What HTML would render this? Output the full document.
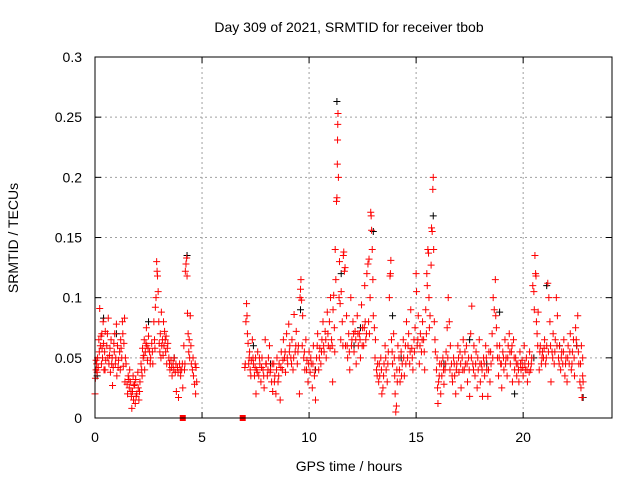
<!DOCTYPE html>
<html><head><meta charset="utf-8"><style>
body{margin:0;background:#fff;}
svg{display:block;font-family:"Liberation Sans",sans-serif;}
</style></head><body>
<svg id="chart" width="640" height="480">
<text x="349" y="32" text-anchor="middle" font-size="14">Day 309 of 2021, SRMTID for receiver tbob</text>
<text x="349" y="471" text-anchor="middle" font-size="14">GPS time / hours</text>
<text transform="translate(18,238) rotate(-90)" text-anchor="middle" font-size="14">SRMTID / TECUs</text>
<g id="grid"></g><g id="axes"></g><g id="black"></g><g id="red"></g>
<rect x="95" y="57" width="517" height="361" fill="none" stroke="#000" stroke-width="1"/>
</svg>
<script>
const xTicks=[0,5,10,15,20];
const yTicks=[0,0.05,0.1,0.15,0.2,0.25,0.3];
const yTickLabels=["0","0.05","0.1","0.15","0.2","0.25","0.3"];
const blackPoints=[[0.1,0.035],[0.4,0.083],[1.0,0.07],[2.5,0.08],[4.3,0.135],[7.4,0.06],[8.2,0.045],[9.6,0.09],[10.3,0.04],[11.3,0.263],[11.5,0.12],[12.4,0.075],[13.0,0.155],[13.9,0.085],[14.3,0.05],[15.8,0.168],[16.3,0.045],[17.5,0.065],[18.3,0.045],[18.9,0.088],[19.6,0.02],[20.5,0.05],[21.1,0.11],[21.7,0.06],[22.5,0.06],[22.8,0.017],[12.1,0.06],[3.7,0.05]];
const redPoints=[
[0.0,0.02],[0.02,0.033],[0.05,0.04],[0.08,0.045],[0.1,0.038],[0.12,0.05],[0.15,0.042],[0.2,0.055],[0.22,0.091],[0.25,0.06],[0.28,0.068],[0.3,0.045],[0.32,0.07],[0.35,0.05],[0.38,0.08],[0.4,0.062],[0.42,0.04],[0.45,0.055],[0.48,0.072],[0.5,0.048],[0.55,0.06],[0.6,0.05],[0.62,0.083],[0.65,0.045],[0.7,0.058],[0.72,0.038],[0.75,0.065],[0.8,0.05],[0.82,0.027],[0.85,0.042],[0.9,0.055],[0.92,0.07],[0.95,0.045],[1.0,0.078],[1.02,0.035],[1.05,0.06],[1.1,0.048],[1.15,0.055],[1.18,0.04],[1.2,0.065],[1.25,0.05],[1.28,0.08],[1.3,0.07],[1.32,0.043],[1.35,0.062],[1.38,0.083],[1.4,0.03],[1.45,0.045],[1.5,0.028],[1.52,0.02],[1.55,0.035],[1.6,0.025],[1.62,0.04],[1.65,0.03],[1.7,0.018],[1.72,0.008],[1.75,0.022],[1.78,0.035],[1.8,0.015],[1.85,0.028],[1.88,0.012],[1.9,0.032],[1.95,0.02],[2.0,0.038],[2.02,0.025],[2.05,0.015],[2.1,0.03],[2.15,0.045],[2.2,0.035],[2.22,0.058],[2.25,0.05],[2.3,0.065],[2.32,0.04],[2.35,0.055],[2.4,0.075],[2.42,0.06],[2.45,0.048],[2.5,0.068],[2.55,0.055],[2.6,0.05],[2.65,0.062],[2.7,0.045],[2.75,0.08],[2.8,0.058],[2.82,0.092],[2.85,0.1],[2.88,0.13],[2.9,0.122],[2.92,0.118],[2.95,0.105],[2.98,0.08],[3.0,0.062],[3.05,0.07],[3.08,0.05],[3.1,0.088],[3.15,0.065],[3.2,0.08],[3.22,0.06],[3.25,0.072],[3.3,0.055],[3.32,0.068],[3.35,0.045],[3.4,0.062],[3.45,0.05],[3.5,0.04],[3.55,0.048],[3.6,0.035],[3.65,0.045],[3.7,0.05],[3.75,0.038],[3.8,0.022],[3.85,0.042],[3.9,0.017],[3.95,0.045],[4.0,0.035],[4.05,0.04],[4.1,0.025],[4.15,0.06],[4.2,0.045],[4.22,0.122],[4.25,0.128],[4.28,0.133],[4.3,0.118],[4.32,0.087],[4.35,0.07],[4.38,0.055],[4.4,0.065],[4.42,0.05],[4.45,0.085],[4.5,0.045],[4.55,0.04],[4.6,0.035],[4.65,0.028],[4.68,0.045],[4.7,0.02],[4.75,0.03],
[7.0,0.042],[7.02,0.045],[7.05,0.08],[7.08,0.095],[7.1,0.085],[7.12,0.07],[7.15,0.062],[7.2,0.05],[7.22,0.055],[7.25,0.04],[7.3,0.048],[7.35,0.065],[7.4,0.045],[7.45,0.035],[7.5,0.05],[7.52,0.02],[7.55,0.04],[7.6,0.055],[7.65,0.035],[7.7,0.045],[7.75,0.03],[7.8,0.05],[7.85,0.04],[7.9,0.025],[7.95,0.065],[8.0,0.045],[8.05,0.035],[8.1,0.05],[8.15,0.06],[8.2,0.04],[8.25,0.03],[8.3,0.022],[8.35,0.045],[8.4,0.035],[8.45,0.02],[8.5,0.05],[8.55,0.03],[8.6,0.045],[8.65,0.015],[8.7,0.055],[8.75,0.04],[8.8,0.065],[8.85,0.05],[8.9,0.038],[8.95,0.07],[9.0,0.045],[9.05,0.078],[9.1,0.06],[9.15,0.05],[9.2,0.065],[9.25,0.04],[9.3,0.086],[9.35,0.055],[9.4,0.072],[9.45,0.045],[9.5,0.06],[9.55,0.02],[9.58,0.1],[9.6,0.107],[9.62,0.115],[9.65,0.098],[9.7,0.085],[9.75,0.05],[9.8,0.04],[9.85,0.065],[9.9,0.048],[9.95,0.03],[10.0,0.055],[10.05,0.038],[10.1,0.045],[10.15,0.025],[10.2,0.06],[10.25,0.035],[10.3,0.015],[10.35,0.05],[10.4,0.07],[10.45,0.04],[10.5,0.058],[10.55,0.045],[10.6,0.065],[10.65,0.08],[10.7,0.055],[10.75,0.072],[10.8,0.05],[10.85,0.088],[10.9,0.06],[10.95,0.08],[11.0,0.1],[11.05,0.065],[11.1,0.03],[11.12,0.09],[11.15,0.102],[11.2,0.055],[11.22,0.14],[11.25,0.115],[11.28,0.18],[11.3,0.183],[11.32,0.211],[11.33,0.231],[11.34,0.244],[11.35,0.253],[11.37,0.2],[11.4,0.1],[11.42,0.13],[11.45,0.095],[11.5,0.105],[11.55,0.08],[11.6,0.135],[11.62,0.138],[11.65,0.122],[11.68,0.125],[11.7,0.06],[11.75,0.085],[11.8,0.05],[11.85,0.07],[11.9,0.04],[11.95,0.1],[12.0,0.065],[12.05,0.08],[12.1,0.055],[12.15,0.072],[12.2,0.045],[12.25,0.085],[12.3,0.06],[12.35,0.07],[12.4,0.05],[12.45,0.094],[12.5,0.075],[12.55,0.06],[12.6,0.11],[12.62,0.08],[12.65,0.065],[12.7,0.12],[12.75,0.128],[12.8,0.132],[12.82,0.07],[12.85,0.1],[12.88,0.171],[12.9,0.168],[12.92,0.156],[12.95,0.14],[12.98,0.115],[13.0,0.085],[13.05,0.075],[13.1,0.065],[13.15,0.04],[13.2,0.045],[13.25,0.03],[13.3,0.035],[13.35,0.05],[13.4,0.02],[13.45,0.025],[13.5,0.045],[13.55,0.06],[13.6,0.04],[13.65,0.03],[13.7,0.055],[13.75,0.1],[13.78,0.118],[13.8,0.12],[13.82,0.131],[13.85,0.065],[13.9,0.045],[13.95,0.07],[14.0,0.035],[14.02,0.02],[14.05,0.005],[14.08,0.01],[14.1,0.04],[14.15,0.06],[14.2,0.05],[14.25,0.03],[14.3,0.055],[14.35,0.045],[14.4,0.065],[14.45,0.035],[14.5,0.06],[14.55,0.08],[14.6,0.05],[14.65,0.07],[14.7,0.045],[14.75,0.09],[14.8,0.058],[14.85,0.04],[14.9,0.065],[14.95,0.075],[15.0,0.12],[15.02,0.105],[15.05,0.06],[15.1,0.085],[15.15,0.045],[15.2,0.07],[15.25,0.055],[15.3,0.08],[15.35,0.065],[15.4,0.04],[15.45,0.09],[15.5,0.12],[15.52,0.11],[15.55,0.14],[15.58,0.137],[15.6,0.1],[15.65,0.085],[15.7,0.127],[15.72,0.158],[15.75,0.155],[15.78,0.19],[15.8,0.2],[15.82,0.14],[15.85,0.08],[15.9,0.055],[15.95,0.04],[16.0,0.025],[16.02,0.012],[16.05,0.03],[16.1,0.045],[16.15,0.02],[16.2,0.035],[16.25,0.05],[16.3,0.028],[16.35,0.04],[16.4,0.055],[16.45,0.075],[16.5,0.1],[16.55,0.08],[16.6,0.06],[16.65,0.045],[16.7,0.03],[16.75,0.05],[16.8,0.035],[16.85,0.02],[16.9,0.045],[16.95,0.06],[17.0,0.038],[17.05,0.055],[17.1,0.025],[17.15,0.05],[17.2,0.065],[17.25,0.04],[17.3,0.045],[17.35,0.06],[17.4,0.03],[17.45,0.05],[17.5,0.018],[17.55,0.07],[17.6,0.093],[17.65,0.045],[17.7,0.06],[17.75,0.035],[17.8,0.055],[17.85,0.025],[17.9,0.04],[17.95,0.065],[18.0,0.03],[18.05,0.045],[18.1,0.018],[18.15,0.05],[18.2,0.035],[18.25,0.06],[18.3,0.04],[18.35,0.018],[18.4,0.055],[18.45,0.03],[18.5,0.045],[18.55,0.07],[18.6,0.1],[18.65,0.09],[18.7,0.115],[18.72,0.085],[18.75,0.075],[18.8,0.05],[18.85,0.035],[18.9,0.06],[18.95,0.045],[19.0,0.025],[19.05,0.055],[19.1,0.04],[19.15,0.065],[19.2,0.05],[19.25,0.035],[19.3,0.06],[19.35,0.07],[19.4,0.045],[19.45,0.055],[19.5,0.03],[19.55,0.065],[19.6,0.04],[19.65,0.05],[19.7,0.035],[19.75,0.045],[19.8,0.03],[19.85,0.055],[19.9,0.04],[19.95,0.048],[20.0,0.035],[20.05,0.06],[20.1,0.04],[20.15,0.05],[20.2,0.03],[20.25,0.045],[20.3,0.055],[20.35,0.04],[20.4,0.05],[20.45,0.11],[20.5,0.105],[20.52,0.09],[20.55,0.135],[20.58,0.12],[20.6,0.118],[20.62,0.08],[20.65,0.07],[20.7,0.088],[20.75,0.04],[20.8,0.06],[20.85,0.045],[20.9,0.055],[20.95,0.05],[21.0,0.065],[21.05,0.045],[21.1,0.06],[21.15,0.112],[21.2,0.1],[21.25,0.08],[21.3,0.03],[21.35,0.055],[21.4,0.07],[21.45,0.045],[21.5,0.065],[21.55,0.1],[21.6,0.085],[21.65,0.05],[21.7,0.06],[21.75,0.04],[21.8,0.055],[21.85,0.045],[21.9,0.065],[21.95,0.035],[22.0,0.05],[22.05,0.03],[22.1,0.06],[22.15,0.045],[22.2,0.07],[22.25,0.04],[22.3,0.055],[22.35,0.065],[22.4,0.035],[22.45,0.075],[22.5,0.06],[22.55,0.085],[22.6,0.045],[22.65,0.03],[22.7,0.025],[22.72,0.06],[22.75,0.017],[22.78,0.035],[22.8,0.03]
];
const redPoints2=[
[0.05,0.048],[0.18,0.065],[0.33,0.058],[0.47,0.04],[0.58,0.07],[0.68,0.052],[0.78,0.045],[0.88,0.062],[0.97,0.05],[1.08,0.042],[1.22,0.058],[1.42,0.05],[1.58,0.032],[1.68,0.022],[1.82,0.027],[1.92,0.018],[2.08,0.022],[2.18,0.04],[2.28,0.052],[2.38,0.062],[2.48,0.058],[2.58,0.045],[2.68,0.055],[2.78,0.065],[3.03,0.055],[3.12,0.06],[3.18,0.052],[3.28,0.065],[3.38,0.058],[3.48,0.045],[3.58,0.042],[3.68,0.04],[3.78,0.045],[3.88,0.038],[3.98,0.04],[4.08,0.045],[4.18,0.04],[4.48,0.06],[4.58,0.05],[4.72,0.042],
[7.18,0.045],[7.28,0.035],[7.38,0.05],[7.48,0.042],[7.58,0.038],[7.68,0.05],[7.78,0.042],[7.88,0.035],[7.98,0.045],[8.08,0.04],[8.18,0.038],[8.28,0.045],[8.38,0.03],[8.48,0.04],[8.58,0.035],[8.68,0.042],[8.78,0.048],[8.88,0.055],[8.98,0.05],[9.08,0.055],[9.18,0.045],[9.28,0.05],[9.38,0.06],[9.48,0.055],[9.68,0.06],[9.78,0.055],[9.88,0.04],[9.98,0.045],[10.08,0.05],[10.18,0.045],[10.28,0.04],[10.38,0.06],[10.48,0.05],[10.58,0.055],[10.68,0.06],[10.78,0.065],[10.88,0.07],[10.98,0.058],[11.08,0.06],[11.18,0.075],[11.48,0.065],[11.58,0.06],[11.78,0.06],[11.88,0.055],[11.98,0.06],[12.08,0.07],[12.18,0.065],[12.28,0.07],[12.38,0.065],[12.48,0.06],[12.58,0.075],[12.68,0.07],[12.78,0.08],[13.08,0.05],[13.18,0.035],[13.28,0.045],[13.38,0.04],[13.48,0.035],[13.58,0.05],[13.68,0.045],[13.88,0.055],[13.98,0.05],[14.12,0.03],[14.22,0.04],[14.32,0.035],[14.42,0.05],[14.52,0.045],[14.62,0.06],[14.72,0.055],[14.82,0.05],[14.92,0.055],[15.08,0.065],[15.18,0.06],[15.28,0.065],[15.38,0.055],[15.48,0.07],[15.62,0.075],[15.88,0.065],[15.98,0.05],[16.08,0.035],[16.18,0.045],[16.28,0.04],[16.38,0.045],[16.48,0.05],[16.58,0.04],[16.68,0.035],[16.78,0.045],[16.88,0.04],[16.98,0.05],[17.08,0.045],[17.18,0.04],[17.28,0.055],[17.38,0.045],[17.48,0.04],[17.58,0.05],[17.68,0.04],[17.78,0.045],[17.88,0.05],[17.98,0.045],[18.08,0.04],[18.18,0.045],[18.28,0.05],[18.38,0.04],[18.48,0.055],[18.58,0.05],[18.78,0.06],[18.88,0.05],[18.98,0.045],[19.08,0.05],[19.18,0.045],[19.28,0.05],[19.38,0.055],[19.48,0.06],[19.58,0.05],[19.68,0.045],[19.78,0.04],[19.88,0.045],[19.98,0.042],[20.08,0.045],[20.18,0.04],[20.28,0.038],[20.38,0.045],[20.68,0.06],[20.78,0.055],[20.88,0.05],[20.98,0.058],[21.08,0.05],[21.18,0.055],[21.28,0.06],[21.38,0.05],[21.48,0.055],[21.58,0.06],[21.68,0.045],[21.78,0.05],[21.88,0.055],[21.98,0.045],[22.08,0.05],[22.18,0.055],[22.28,0.045],[22.38,0.05],[22.48,0.065],[22.58,0.055],[22.68,0.045],[22.78,0.05]
];
const redSquares=[4.1,6.9];
const NS='http://www.w3.org/2000/svg';
const X0=95,X1=612,Y0=418,Y1=57,XMAX=24.15,YMAX=0.3;
const sx=v=>X0+v/XMAX*(X1-X0), sy=v=>Y0-v/YMAX*(Y0-Y1);
function mk(tag,attrs,parent){const e=document.createElementNS(NS,tag);for(const k in attrs)e.setAttribute(k,attrs[k]);parent.appendChild(e);return e;}
const grid=document.getElementById('grid'),axes=document.getElementById('axes');
xTicks.forEach(t=>{const x=sx(t);
 if(t>0){const g=mk('line',{x1:x,x2:x,y1:Y1,y2:Y0,stroke:'#a0a0a0','stroke-dasharray':'2,3'},grid);
 
 }
 mk('line',{x1:x,x2:x,y1:Y0,y2:Y0-6,stroke:'#000'},axes);mk('line',{x1:x,x2:x,y1:Y1,y2:Y1+6,stroke:'#000'},axes);
 const l=mk('text',{x:x,y:Y0+24,'text-anchor':'middle','font-size':14},axes);l.textContent=t;
 
 });
yTicks.forEach((t,i)=>{const y=sy(t);
 if(i>0&&i<yTicks.length-1){const g=mk('line',{x1:X0,x2:X1,y1:y,y2:y,stroke:'#a0a0a0','stroke-dasharray':'2,3'},grid);
 
 }
 mk('line',{x1:X0,x2:X0+6,y1:y,y2:y,stroke:'#000'},axes);mk('line',{x1:X1,x2:X1-6,y1:y,y2:y,stroke:'#000'},axes);
 const l=mk('text',{x:X0-13,y:y+5,'text-anchor':'end','font-size':14},axes);l.textContent=yTickLabels[i];
 
 });
function plus(g,p,color,name){const x=sx(p[0]),y=sy(p[1]);
 const e=mk('path',{d:`M${x-3.5} ${y}H${x+3.5}M${x} ${y-3.5}V${y+3.5}`,stroke:color,'stroke-width':1,fill:'none'},g);
 
 }
const bg=document.getElementById('black'),rg=document.getElementById('red');
blackPoints.forEach(p=>plus(bg,p,'#000','black-point'));
redPoints.forEach(p=>plus(rg,p,'#f00','red-point'));
redPoints2.forEach(p=>plus(rg,p,'#f00','red-point'));
redSquares.forEach(h=>{const r=mk('rect',{x:sx(h)-3,y:Y0-3,width:6,height:6,fill:'#f00'},rg);
 
 });
</script>
</body></html>
